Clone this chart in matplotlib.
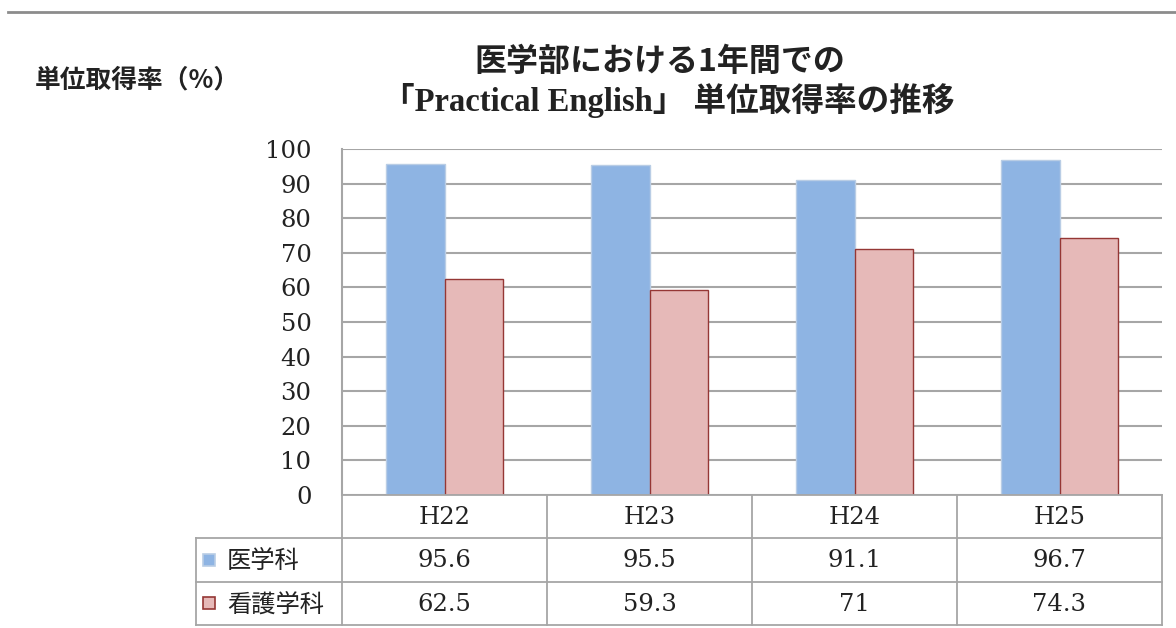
import numpy as np
import matplotlib.pyplot as plt
from matplotlib.patches import Rectangle
from matplotlib.lines import Line2D

# data
years = ["H22", "H23", "H24", "H25"]
series_names = ["医学科", "看護学科"]
igaku = [95.6, 95.5, 91.1, 96.7]
kango = [62.5, 59.3, 71, 74.3]
kango_labels = ["62.5", "59.3", "71", "74.3"]
igaku_labels = ["95.6", "95.5", "91.1", "96.7"]
yticks = list(range(0, 101, 10))

W, H = 1176, 628
blue = "#8EB4E3"
blue_edge = "#B9CDE5"
pink = "#E6B9B8"
pink_edge = "#953735"
grid = "#A6A6A6"
serif = ["DejaVu Serif", "Noto Sans CJK JP"]
cjk = ["Noto Sans CJK JP", "DejaVu Sans"]

fig = plt.figure(figsize=(W / 100, H / 100), dpi=100)

# plot area in pixels
px_l, px_r, px_t, px_b = 342, 1162, 149, 495
ax = fig.add_axes([px_l / W, 1 - px_b / H, (px_r - px_l) / W, (px_b - px_t) / H])
x = np.arange(len(years))
bw = 0.285
ax.bar(x - bw / 2, igaku, bw, color=blue, edgecolor=blue_edge, linewidth=1, zorder=3)
ax.bar(x + bw / 2, kango, bw, color=pink, edgecolor=pink_edge, linewidth=1, zorder=3)
ax.set_xlim(-0.5, len(years) - 0.5)
ax.set_ylim(0, 100)
ax.set_yticks(yticks)
ax.set_yticklabels([str(t) for t in yticks], fontsize=17.5, family=serif, color="#222222")
ax.tick_params(axis="y", length=0, pad=22)
ax.set_xticks([])
ax.yaxis.grid(True, color=grid, linewidth=1.5, zorder=0)
for s in ["top", "right", "bottom"]:
    ax.spines[s].set_visible(False)
ax.spines["left"].set_color(grid)
ax.spines["left"].set_linewidth(1.5)

# data table under the plot
unit = (px_r - px_l) / len(years)
tb_l, tb_t, tb_b = 196, 495, 625
tax = fig.add_axes([tb_l / W, 1 - tb_b / H, (px_r - tb_l) / W, (tb_b - tb_t) / H])
x0 = -0.5 - (px_l - tb_l) / unit
tax.set_xlim(x0, len(years) - 0.5)
tax.set_ylim(3, 0)
tax.axis("off")
lc = "#A6A6A6"
lw = 1.3
# horizontal lines
tax.add_line(Line2D([-0.5, len(years) - 0.5], [0, 0], color=lc, lw=lw, clip_on=False))
for yy in [1, 2, 3]:
    tax.add_line(Line2D([x0, len(years) - 0.5], [yy, yy], color=lc, lw=lw, clip_on=False))
# vertical lines
tax.add_line(Line2D([x0, x0], [1, 3], color=lc, lw=lw, clip_on=False))
for i in range(len(years) + 1):
    tax.add_line(Line2D([i - 0.5, i - 0.5], [0, 3], color=lc, lw=lw, clip_on=False))

for i, yr in enumerate(years):
    tax.text(i, 0.52, yr, ha="center", va="center", fontsize=17.5, family=serif, color="#222222")
    tax.text(i, 1.52, igaku_labels[i], ha="center", va="center", fontsize=17.5, family=serif, color="#222222")
    tax.text(i, 2.52, kango_labels[i], ha="center", va="center", fontsize=17.5, family=serif, color="#222222")

# legend keys in the table
sq = 12 / unit
sq_h = 12 / ((tb_b - tb_t) / 3)
lx = x0 + 7 / unit
for row, (name, fc, ec) in enumerate([(series_names[0], blue, blue_edge), (series_names[1], pink, pink_edge)]):
    yc = row + 1.5
    tax.add_patch(Rectangle((lx, yc - sq_h / 2), sq, sq_h, facecolor=fc, edgecolor=ec, lw=1.2, clip_on=False))
    tax.text(lx + sq + 12 / unit, yc + 0.02, name, ha="left", va="center", fontsize=17.5, family=cjk, color="#222222")

# titles
fig.text(660 / W, 1 - 62 / H, "医学部における1年間での", ha="center", va="center",
         fontsize=23, family=cjk, fontweight="bold", color="#222222")
fig.text(668 / W, 1 - 101 / H, "「Practical English」 単位取得率の推移", ha="center", va="center",
         fontsize=23.5, family=["Liberation Serif", "Noto Sans CJK JP"], fontweight="bold", color="#222222")
fig.text(35 / W, 1 - 80 / H, "単位取得率（%）", ha="left", va="center",
         fontsize=18.5, family=cjk, fontweight="bold", color="#222222")

# top separator line
fig.add_artist(Line2D([8 / W, 1.0], [1 - 12 / H, 1 - 12 / H], color="#8C8C8C", lw=2))

fig.savefig("out.png", dpi=100)
